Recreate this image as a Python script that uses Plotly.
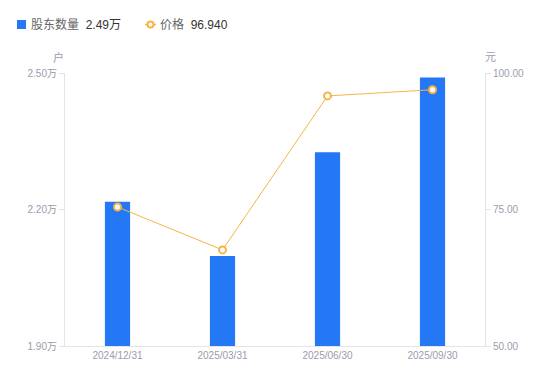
import plotly.graph_objects as go

dates = ["2024/12/31", "2025/03/31", "2025/06/30", "2025/09/30"]
holders = [2.217, 2.098, 2.326, 2.49]   # 万户
prices = [75.45, 67.6, 95.8, 96.94]     # 元
left_ticks = [1.90, 2.20, 2.50]
left_labels = ["1.90万", "2.20万", "2.50万"]
right_ticks = [50, 75, 100]
right_labels = ["50.00", "75.00", "100.00"]

BLUE = "#2477f5"
ORANGE = "#f7b443"
GRAY = "#9b9bab"
AXIS = "#e3e3e8"

OFF = 8  # page body margin of the html page
W, H = 550 - OFF, 381 - OFF
L, R, T, B = 65 - OFF, 65, 73 - OFF, 35
PW, PH = W - L - R, H - T - B


def px(x):
    return (x - OFF - L) / PW


def py(y):
    return (H - B - (y - OFF)) / PH


FONT = "Liberation Sans, Noto Sans CJK SC, sans-serif"

fig = go.Figure()
fig.add_trace(go.Bar(
    x=dates, y=holders, name="股东数量",
    marker=dict(color=BLUE, line=dict(width=0)), width=0.24, yaxis="y",
))
fig.add_trace(go.Scatter(
    x=dates, y=prices, name="价格",
    mode="lines+markers", yaxis="y2",
    line=dict(color=ORANGE, width=1),
    marker=dict(symbol="circle", size=7, color="white", line=dict(color=ORANGE, width=2)),
))

fig.update_layout(
    width=W, height=H,
    margin=dict(l=L, r=R, t=T, b=B, autoexpand=False),
    paper_bgcolor="white", plot_bgcolor="white",
    font=dict(family=FONT, size=10, color=GRAY),
    showlegend=False,
    xaxis=dict(type="category", showgrid=False, showline=True, linecolor=AXIS, linewidth=1,
               ticks="", tickfont=dict(size=10, color=GRAY), fixedrange=True),
    yaxis=dict(range=[1.90, 2.50], tickvals=left_ticks, ticktext=left_labels, showgrid=False,
               showline=True, linecolor=AXIS, linewidth=1, ticks="outside", ticklen=5,
               tickcolor=AXIS, tickfont=dict(size=10, color=GRAY), zeroline=False),
    yaxis2=dict(range=[50, 100], tickvals=right_ticks, ticktext=right_labels, overlaying="y",
                side="right", showgrid=False, showline=True, linecolor=AXIS, linewidth=1,
                ticks="outside", ticklen=5, tickcolor=AXIS, tickfont=dict(size=10, color=GRAY),
                zeroline=False),
    annotations=[
        dict(text="户", xref="paper", yref="paper", x=px(58), y=py(57), xanchor="center",
             yanchor="middle", showarrow=False, font=dict(size=11, color=GRAY)),
        dict(text="元", xref="paper", yref="paper", x=px(490), y=py(57), xanchor="center",
             yanchor="middle", showarrow=False, font=dict(size=11, color=GRAY)),
        dict(text="股东数量  <span style='color:#333333'>2.49万</span>", xref="paper", yref="paper",
             x=px(29), y=py(24.5), xanchor="left", yanchor="middle", showarrow=False,
             font=dict(size=12, color="#666666")),
        dict(text="价格  <span style='color:#333333'>96.940</span>", xref="paper", yref="paper",
             x=px(158), y=py(24.5), xanchor="left", yanchor="middle", showarrow=False,
             font=dict(size=12, color="#666666")),
    ],
    shapes=[
        dict(type="rect", xref="paper", yref="paper", x0=px(17), x1=px(26), y0=py(29), y1=py(20),
             fillcolor=BLUE, line=dict(width=0)),
        dict(type="line", xref="paper", yref="paper", x0=px(145), x1=px(156), y0=py(24.5), y1=py(24.5),
             line=dict(color=ORANGE, width=1.5)),
        dict(type="circle", xref="paper", yref="paper", x0=px(147.5), x1=px(153.5), y0=py(27.5), y1=py(21.5),
             fillcolor="white", line=dict(color=ORANGE, width=2)),
    ],
)

fig.write_html("out.html")
